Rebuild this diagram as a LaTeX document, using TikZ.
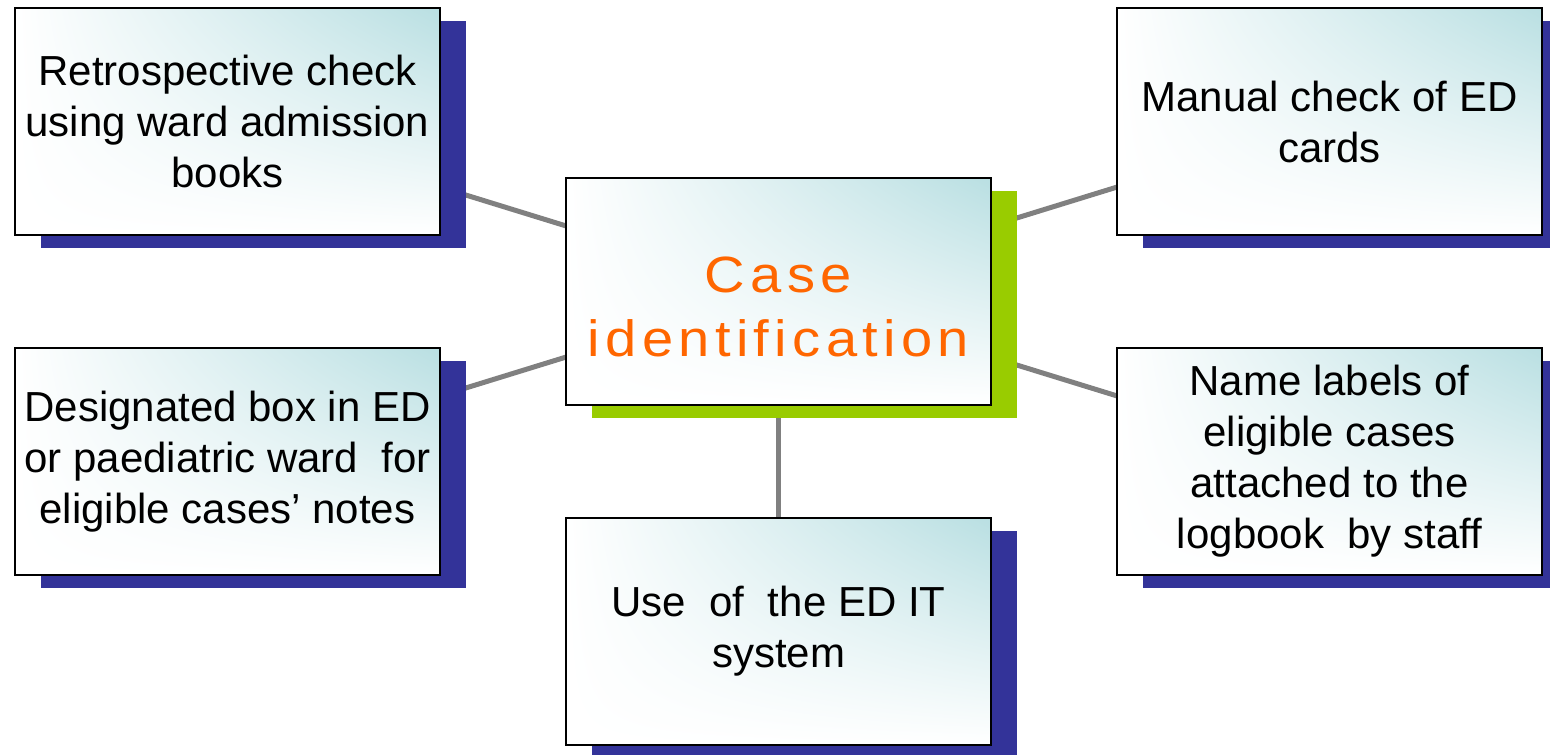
\documentclass[tikz,border=0pt]{standalone}
\usepackage{fontspec}
\setmainfont{Liberation Sans}
\newfontfamily\hubfont[LetterSpace=10.5, FakeStretch=1.1]{Liberation Sans}
\usetikzlibrary{shadings,shadows,backgrounds}
\definecolor{boxteal}{RGB}{185,223,226}
\definecolor{shadowblue}{RGB}{51,51,153}
\definecolor{hubgreen}{RGB}{153,204,0}
\definecolor{huborange}{RGB}{255,102,0}
\definecolor{linkgray}{RGB}{128,128,128}

\begin{document}
\begin{tikzpicture}[x=0.5pt, y=-0.5pt,
  card/.style={draw, line width=1pt, minimum width=212.5pt, minimum height=113.5pt, inner sep=0pt, align=center,
    upper left=white, upper right=boxteal, lower left=white, lower right=white},
  item box/.style={card, font=\fontsize{21}{25.5}\selectfont,
    drop shadow={shadow xshift=13pt, shadow yshift=-6.5pt, fill=shadowblue, opacity=1}},
  hub box/.style={card,
    drop shadow={shadow xshift=13pt, shadow yshift=-6.5pt, fill=hubgreen, opacity=1}},
  hub text/.style={align=center, inner sep=0pt, text=huborange, font=\hubfont\fontsize{25.5}{32}\selectfont},
  link/.style={draw=linkgray, line width=2.5pt}]
\useasboundingbox (0,0) rectangle (1550,754);

\node[hub box] (case identification) at (778.5, 291.5) {};
\node[hub text] (case identification label) at ([yshift=-7.5pt]case identification.center) {Case\\identification};

\node[item box] (retrospective check) at (227.5, 121.5) {Retrospective check\\using ward admission\\books};
\node[item box] (designated box) at (227.5, 461.5) {Designated box in ED\\or paediatric ward\ \ for\\eligible cases’ notes};
\node[item box] (manual check) at (1329.5, 121.5) {Manual check of ED\\cards};
\node[item box] (name labels) at (1329.5, 461.5) {Name labels of\\eligible cases\\attached to the\\logbook\ \ by staff};
\node[item box] (it system) at (778.5, 631.5) {Use\ \ of\ \ the ED IT\\system};

\begin{scope}[on background layer]
\draw[link] (case identification.center) -- (retrospective check.center);
\draw[link] (case identification.center) -- (designated box.center);
\draw[link] (case identification.center) -- (manual check.center);
\draw[link] (case identification.center) -- (name labels.center);
\draw[link] (case identification.center) -- (it system.center);
\end{scope}
\end{tikzpicture}
\end{document}
